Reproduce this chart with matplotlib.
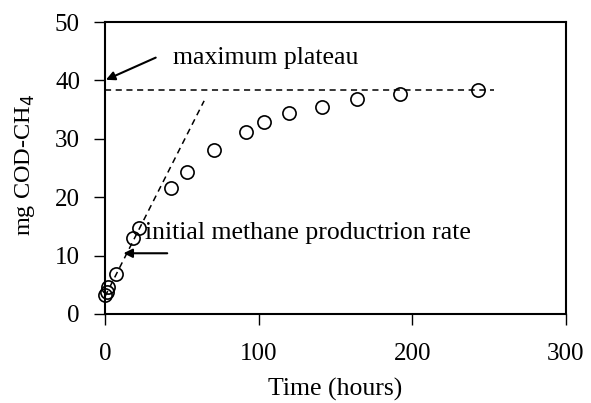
import matplotlib
matplotlib.use("Agg")
import matplotlib.pyplot as plt

plt.rcParams['font.family'] = ['Liberation Serif', 'DejaVu Serif']

# measured data (hours, mg COD-CH4)
time_h = [0, 1, 2, 7, 18.4, 22.3, 42.7, 53.2, 71.1, 91.9, 103.6, 119.9, 141, 164.2, 192.1, 242.5]
methane = [3.3, 3.8, 4.6, 6.8, 13.0, 14.7, 21.6, 24.3, 28.1, 31.2, 32.9, 34.5, 35.4, 36.9, 37.6, 38.4]

# fitted guides
plateau_x = [0, 253]
plateau_y = [38.3, 38.3]
rate_x = [0, 64.5]
rate_y = [3.0, 36.5]

fig = plt.figure(figsize=(5.91, 4.03), dpi=100)
ax = fig.add_axes([105 / 591, 1 - 314 / 403, 461 / 591, 292 / 403])

ax.plot(time_h, methane, 'o', mfc='none', mec='black', ms=9.5, mew=1.2, clip_on=False, zorder=3)
ax.plot(plateau_x, plateau_y, '--', color='black', lw=1.1, dashes=(4, 3))
ax.plot(rate_x, rate_y, '--', color='black', lw=1.1, dashes=(4, 3))

# annotations
ax.annotate('', xy=(0.6, 40.1), xytext=(33, 43.9),
            arrowprops=dict(arrowstyle='-|>', color='black', lw=1.5, shrinkA=0, shrinkB=0,
                            mutation_scale=13))
ax.text(44.2, 43.8, 'maximum plateau', fontsize=18.5, va='center', ha='left')
ax.annotate('', xy=(12, 10.4), xytext=(40.5, 10.4),
            arrowprops=dict(arrowstyle='-|>', color='black', lw=1.5, shrinkA=0, shrinkB=0,
                            mutation_scale=13))
ax.text(26, 13.9, 'initial methane productrion rate', fontsize=18.5, va='center', ha='left')

ax.set_xlim(0, 300)
ax.set_ylim(0, 50)
ax.set_xticks([0, 100, 200, 300])
ax.set_yticks(range(0, 51, 10))
ax.tick_params(direction='out', length=8, width=1, labelsize=18)
ax.tick_params(axis='x', pad=13)
ax.tick_params(axis='y', pad=10)
for s in ax.spines.values():
    s.set_linewidth(1.5)

ax.set_xlabel('Time (hours)', fontsize=18.5)
ax.set_ylabel('mg COD-CH$_4$', fontsize=17.5)
ax.xaxis.set_label_coords(0.5, -(389 - 314) / 292)
ax.xaxis.label.set_va('center')
ax.yaxis.set_label_coords(-(105 - 25) / 461, (314 - 165) / 292)
ax.yaxis.label.set_va('center')

fig.savefig('out.png', dpi=100)
